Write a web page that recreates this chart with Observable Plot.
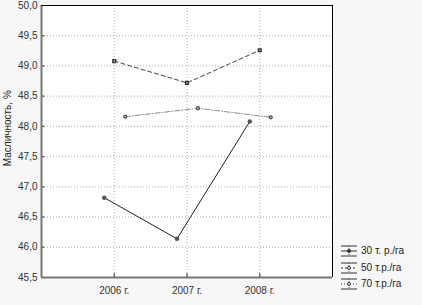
<!DOCTYPE html>
<html><head><meta charset="utf-8">
<script src="https://cdn.jsdelivr.net/npm/d3@7"></script>
<script src="https://cdn.jsdelivr.net/npm/@observablehq/plot@0.6"></script>
<style>
html,body{margin:0;padding:0;background:#f7f7f7;}
#wrap{position:relative;width:422px;height:305px;font-family:"Liberation Sans",Arial,sans-serif;}
#legend{position:absolute;left:340px;top:243px;font-size:10px;color:#222;line-height:16.5px;}
#legend div{display:flex;align-items:center;height:16.5px;}
#legend svg{margin-right:3px;}
</style></head>
<body><div id="wrap"><div id="chart"></div><div id="legend"></div></div>
<script>
const years = [2006, 2007, 2008];
const seriesNames = ["30 т. р./га", "50 т.р./га", "70 т.р./га"];
const oil30 = [46.82, 46.14, 48.08];
const oil50 = [49.08, 48.72, 49.26];
const oil70 = [48.16, 48.30, 48.15];
const yTicks = [45.5, 46.0, 46.5, 47.0, 47.5, 48.0, 48.5, 49.0, 49.5, 50.0];
const xTickLabels = ["2006 г.", "2007 г.", "2008 г."];
const yTitle = "Масличность, %";

const rows = (vals) => years.map((y, i) => ({year: y, v: vals[i]}));
const d30 = rows(oil30), d50 = rows(oil50), d70 = rows(oil70);
const fmtY = d => d3.format(".1f")(d).replace(".", ",");

const plot = Plot.plot({
  width: 422, height: 305,
  marginLeft: 41, marginRight: 90, marginTop: 5, marginBottom: 28,
  style: {fontFamily: "Liberation Sans, Arial, sans-serif", fontSize: "10px", color: "#333", background: "transparent"},
  x: {domain: [2005, 2009]},
  y: {domain: [45.5, 50]},
  marks: [
    Plot.frame({fill: "white", stroke: "none"}),
    Plot.gridX(years, {stroke: "#aaa", strokeOpacity: 1, strokeDasharray: "1,2"}),
    Plot.gridY(yTicks.slice(1, -1), {stroke: "#aaa", strokeOpacity: 1, strokeDasharray: "1,2"}),
    Plot.axisY(yTicks, {tickFormat: fmtY, tickSize: 0, tickPadding: 4, fontSize: 10, label: null}),
    Plot.text([yTitle], {x: 2005, y: 47.97, dx: -34, rotate: -90, fontSize: 10, fill: "#222", text: d => d}),
    Plot.ruleY(yTicks.slice(1, -1), {x1: 2005, x2: 2005.045, stroke: "#666", strokeWidth: 1.5}),
    Plot.ruleX(years, {y1: 45.5, y2: 45.56, stroke: "#666", strokeWidth: 1.5}),
    Plot.axisX(years, {tickFormat: (d, i) => xTickLabels[i], tickSize: 0, tickPadding: 9, fontSize: 10, label: null}),
    Plot.ruleY([45.5], {stroke: "#777", strokeWidth: 2}),
    Plot.ruleX([2005], {stroke: "#777", strokeWidth: 2}),
    Plot.ruleY([50], {stroke: "#000", strokeWidth: 1}),
    Plot.ruleX([2009], {stroke: "#000", strokeWidth: 1}),
    Plot.lineY(d30, {x: "year", y: "v", dx: -10, stroke: "#222", strokeWidth: 1}),
    Plot.dot(d30, {x: "year", y: "v", dx: -10, r: 1.5, fill: "#555", stroke: "#555"}),
    Plot.lineY(d50, {x: "year", y: "v", stroke: "#444", strokeWidth: 1, strokeDasharray: "4,3"}),
    Plot.dot(d50, {x: "year", y: "v", symbol: "square", r: 1.5, fill: "white", stroke: "#333"}),
    Plot.lineY(d70, {x: "year", y: "v", dx: 11, stroke: "#888", strokeWidth: 1, strokeDasharray: "5,2,1,2"}),
    Plot.dot(d70, {x: "year", y: "v", dx: 11, r: 1.4, fill: "white", stroke: "#555"})
  ]
});
document.getElementById("chart").appendChild(plot);

const styles = [
  {dash: null, mk: "fill"},
  {dash: "2,2", mk: "open"},
  {dash: "1,2", mk: "open"}
];
const leg = document.getElementById("legend");
seriesNames.forEach((name, i) => {
  const s = styles[i];
  const div = document.createElement("div");
  div.innerHTML = `<svg width="18" height="14">
    <line x1="1" x2="17" y1="2" y2="2" stroke="#333"/>
    <line x1="1" x2="17" y1="12" y2="12" stroke="#333"/>
    <line x1="9" x2="9" y1="2" y2="12" stroke="#555" stroke-dasharray="1,1"/>
    <line x1="1" x2="17" y1="7" y2="7" stroke="#333" ${s.dash ? `stroke-dasharray="${s.dash}"` : ""}/>
    <circle cx="9" cy="7" r="1.5" fill="${s.mk === "fill" ? "#333" : "white"}" stroke="#333"/>
  </svg><span>${name}</span>`;
  leg.appendChild(div);
});
</script></body></html>
